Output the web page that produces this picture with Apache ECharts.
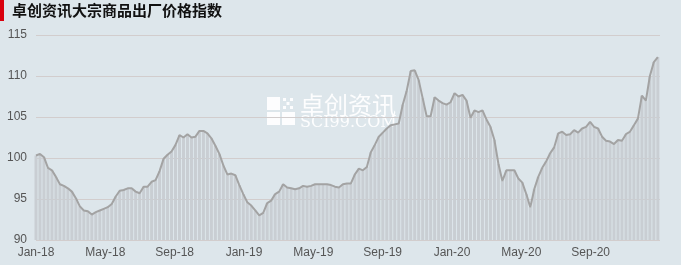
<!DOCTYPE html>
<html><head><meta charset="utf-8">
<script src="https://cdn.jsdelivr.net/npm/echarts@6/dist/echarts.min.js"></script>
<style>html,body{margin:0;padding:0;background:#dde6eb;}#c{width:681px;height:265px;}</style>
</head><body><div id="c"></div>
<script>
// weekly index values, first week of Jan 2018 through end of Dec 2020
const values = [
100.3,100.5,100.1,98.8,98.5,97.7,96.8,96.6,96.3,95.9,
95.1,94.1,93.6,93.5,93.1,93.4,93.6,93.8,94.0,94.4,
95.3,96.0,96.1,96.3,96.3,95.9,95.7,96.5,96.5,97.1,
97.3,98.4,99.9,100.4,100.8,101.6,102.8,102.5,102.9,102.5,
102.6,103.3,103.3,103.0,102.4,101.5,100.5,99.1,98.0,98.1,
97.9,96.7,95.6,94.6,94.2,93.6,93.0,93.3,94.5,94.8,
95.6,95.9,96.8,96.4,96.3,96.2,96.3,96.6,96.5,96.6,
96.8,96.8,96.8,96.8,96.7,96.5,96.4,96.8,96.9,96.9,
98.0,98.7,98.5,98.9,100.7,101.6,102.6,103.1,103.6,104.0,
104.1,104.2,106.5,108.2,110.6,110.7,109.5,107.3,105.1,105.1,
107.4,107.0,106.7,106.5,106.8,107.9,107.5,107.7,107.0,104.9,
105.8,105.6,105.8,104.7,103.8,102.2,99.3,97.2,98.5,98.5,
98.5,97.5,97.0,95.6,94.0,96.2,97.7,98.8,99.6,100.6,
101.3,103.0,103.2,102.8,102.9,103.4,103.1,103.6,103.8,104.4,
103.8,103.6,102.6,102.1,102.0,101.7,102.2,102.1,102.9,103.2,
104.0,104.8,107.6,107.0,110.0,111.7,112.3
];
const tickLabels = ['Jan-18','May-18','Sep-18','Jan-19','May-19','Sep-19','Jan-20','May-20','Sep-20','Jan-21'];
const yTicks = [90,95,100,105,110,115];
const title = '卓创资讯大宗商品出厂价格指数';

// x position in months since Jan 2018 (weekly step)
const pts = values.map((v,i)=>[i*12/52.18, v]);

const chart = echarts.init(document.getElementById('c'));
const wm = 'rgba(255,255,255,0.92)';
chart.setOption({
  backgroundColor:'#dde6eb',
  animation:false,
  grid:{left:36,right:21,top:35,bottom:25},
  xAxis:{type:'value',min:0,max:36,interval:4,
    axisLine:{show:false},axisTick:{show:false},splitLine:{show:false},
    axisLabel:{color:'#555',fontSize:12,fontFamily:'Liberation Sans',margin:7,
      showMaxLabel:false,
      formatter:v=>tickLabels[Math.round(v/4)]||''}},
  yAxis:{type:'value',min:yTicks[0],max:yTicks[yTicks.length-1],interval:5,
    axisLine:{show:false},axisTick:{show:false},
    splitLine:{show:true,lineStyle:{color:'#d2cdcd',width:1}},
    axisLabel:{color:'#555',fontSize:12,fontFamily:'Liberation Sans',margin:9}},
  graphic:[
    {type:'rect',shape:{x:0,y:0,width:4,height:21},style:{fill:'#d9000d'}},
    {type:'text',left:12,top:3,style:{text:title,font:'bold 15px "Noto Sans CJK SC"',fill:'#111'}},
    {type:'group',left:267,top:93,children:[
      {type:'rect',shape:{x:0,y:0,width:13,height:13},style:{fill:wm}},
      {type:'rect',shape:{x:0,y:15,width:13,height:13},style:{fill:wm}},
      {type:'rect',shape:{x:15,y:15,width:13,height:13},style:{fill:wm}},
      {type:'rect',shape:{x:16,y:1,width:3,height:3},style:{fill:wm}},
      {type:'rect',shape:{x:23,y:1,width:3,height:3},style:{fill:wm}},
      {type:'rect',shape:{x:19.5,y:5,width:3,height:3},style:{fill:wm}},
      {type:'rect',shape:{x:16,y:9,width:3,height:3},style:{fill:wm}},
      {type:'rect',shape:{x:23,y:9,width:3,height:3},style:{fill:wm}},
      {type:'text',x:33,y:-4,style:{text:'卓创资讯',font:'24px "Noto Sans CJK SC"',fill:wm}},
      {type:'text',x:33,y:18,style:{text:'SCI99.COM',font:'16px "DejaVu Serif"',fill:wm}}
    ]}
  ],
  series:[
    {type:'bar',data:pts,barWidth:3,itemStyle:{color:'#c9ced3'},silent:true,z:1},
    {type:'line',data:pts,symbol:'none',lineStyle:{color:'#a3a3a3',width:2},z:3,silent:true}
  ]
});
</script></body></html>
